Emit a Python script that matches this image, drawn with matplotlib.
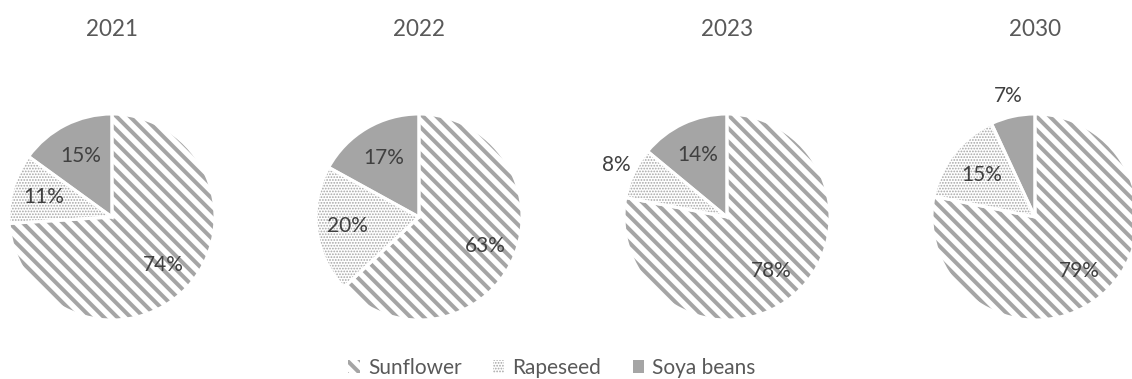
import numpy as np
import matplotlib
matplotlib.use("Agg")
import matplotlib.pyplot as plt

# share of each crop in oilseed output, per year
years = ["2021", "2022", "2023", "2030"]
crops = ["Sunflower", "Rapeseed", "Soya beans"]
sunflower = [74, 63, 78, 79]
rapeseed = [11, 20, 8, 15]
soya = [15, 17, 14, 7]

# radial position of each percentage label (fraction of radius)
label_dist = [
    [0.68, 0.69, 0.67],
    [0.70, 0.70, 0.67],
    [0.68, 1.19, 0.67],
    [0.68, 0.66, 1.20],
]

GRAY = "#a5a5a5"
TEXT = "#595959"
LABEL = "#404040"
HATCHES = ["\\\\\\", ".......", ""]

plt.rcParams["font.family"] = ["Lato", "DejaVu Sans"]
plt.rcParams["hatch.linewidth"] = 2.4

DPI = 120
W, H = 1132, 379
fig = plt.figure(figsize=(W / DPI, H / DPI), dpi=DPI)

centers_x = [112, 419, 727, 1035]
center_y = 217
radius_px = 103


def thin_dots(patch):
    # fine stipple for rapeseed
    if hasattr(patch, "set_hatch_linewidth"):
        patch.set_hatch_linewidth(0.7)


handles = None
for i, year in enumerate(years):
    cx = centers_x[i]
    ax = fig.add_axes([(cx - radius_px) / W, (H - center_y - radius_px) / H,
                       2 * radius_px / W, 2 * radius_px / H])
    vals = [sunflower[i], rapeseed[i], soya[i]]
    wedges, _ = ax.pie(
        vals, startangle=90, counterclock=False, radius=1,
        colors=["white", "white", GRAY], hatch=HATCHES,
        wedgeprops=dict(edgecolor=GRAY, linewidth=0),
    )
    thin_dots(wedges[1])
    # white separators between the slices
    ax.pie(vals, startangle=90, counterclock=False, radius=1,
           colors=["none"] * 3,
           wedgeprops=dict(edgecolor="white", linewidth=1.8, fill=False))
    if handles is None:
        handles = wedges
    for w, v, d in zip(wedges, vals, label_dist[i]):
        ang = np.deg2rad((w.theta1 + w.theta2) / 2)
        ax.text(d * np.cos(ang), d * np.sin(ang), f"{v}%",
                ha="center", va="center", fontsize=12.5, color=LABEL)
    ax.set_xlim(-1, 1)
    ax.set_ylim(-1, 1)
    ax.set_aspect("equal")
    ax.axis("off")
    fig.text(cx / W, 1 - 30 / H, year, ha="center", va="center",
             fontsize=13.5, color=TEXT)

leg = fig.legend(handles, crops, loc="center",
                 bbox_to_anchor=(552 / W, 1 - 368 / H),
                 ncol=3, frameon=False, handlelength=0.55, handleheight=0.55,
                 handletextpad=0.4, columnspacing=1.5, fontsize=12.5,
                 labelcolor=TEXT)
thin_dots(leg.legend_handles[1])

fig.savefig("out.png", dpi=DPI)
